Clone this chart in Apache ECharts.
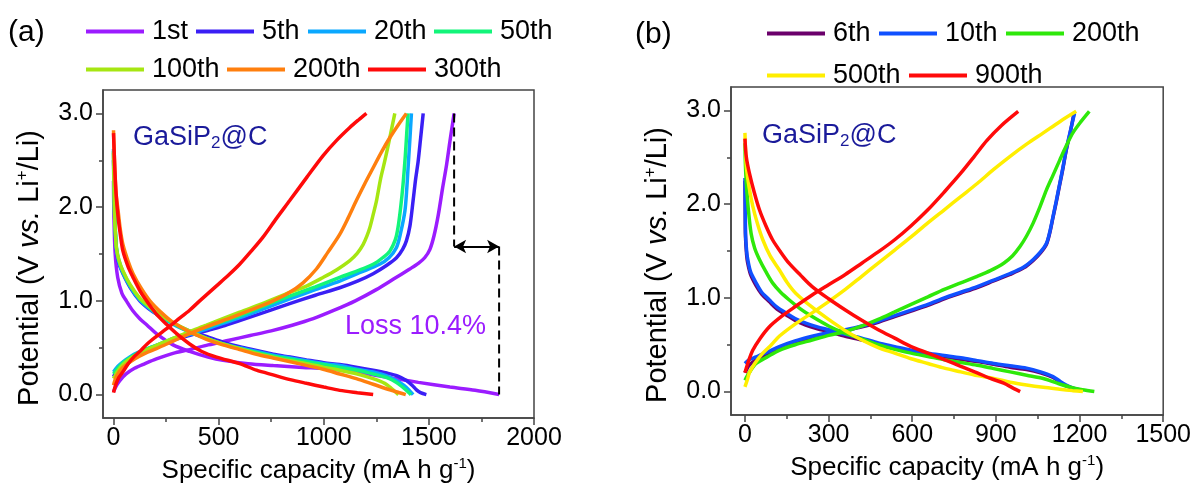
<!DOCTYPE html>
<html><head><meta charset="utf-8">
<script src="https://cdn.jsdelivr.net/npm/echarts@6/dist/echarts.min.js"></script>
<style>html,body{margin:0;padding:0;background:#fff}#c{width:1194px;height:497px}</style>
</head><body><div id="c"></div>
<script>
// ---------- DATA ----------
const cyclesA = ['1st','5th','20th','50th','100th','200th','300th'];
const cyclesB = ['6th','10th','200th','500th','900th'];

// panel (a): [capacity mA h g-1, potential V]
const a1stDis = [[0,2.28],[2,1.9],[8,1.5],[20,1.25],[40,1.08],[61,1.0],[90,0.9],[125,0.81],[160,0.74],[204,0.65],[283,0.53],[362,0.46],[450,0.4],[521,0.365],[640,0.33],[760,0.31],[900,0.29],[1000,0.28],[1150,0.24],[1300,0.185],[1450,0.13],[1600,0.08],[1720,0.045],[1834,0.0]];
const a1stCha = [[0,0.03],[15,0.1],[30,0.15],[60,0.22],[100,0.28],[150,0.33],[204,0.38],[283,0.44],[362,0.48],[450,0.53],[550,0.58],[650,0.63],[750,0.68],[850,0.74],[950,0.81],[1050,0.9],[1150,1.0],[1250,1.12],[1330,1.23],[1409,1.34],[1450,1.40],[1480,1.46],[1505,1.55],[1525,1.7],[1545,1.92],[1565,2.2],[1584,2.45],[1600,2.7],[1612,2.88],[1620,3.0]];
const a5thDis = [[0,2.5],[2,2.2],[5,1.9],[10,1.65],[14,1.53],[25,1.4],[45,1.29],[80,1.14],[125,1.0],[165,0.92],[204,0.86],[283,0.76],[360,0.68],[442,0.62],[520,0.56],[600,0.51],[680,0.47],[759,0.43],[840,0.4],[918,0.37],[1000,0.34],[1076,0.32],[1160,0.29],[1235,0.26],[1300,0.23],[1350,0.2],[1393,0.15],[1420,0.1],[1441,0.05],[1460,0.02],[1488,0.0]];
const a5thCha = [[0,0.19],[20,0.27],[45,0.33],[90,0.4],[140,0.45],[210,0.52],[283,0.58],[360,0.63],[442,0.68],[520,0.73],[600,0.79],[720,0.88],[838,0.97],[960,1.06],[1076,1.14],[1160,1.21],[1235,1.29],[1300,1.38],[1346,1.46],[1375,1.55],[1393,1.64],[1410,1.8],[1425,2.07],[1437,2.3],[1449,2.49],[1460,2.72],[1473,3.0]];
const a20thDis = [[0,2.62],[2,2.3],[5,1.95],[10,1.68],[14,1.55],[25,1.42],[45,1.3],[80,1.15],[125,1.01],[165,0.93],[204,0.86],[283,0.75],[360,0.67],[442,0.6],[520,0.54],[600,0.5],[680,0.46],[759,0.42],[840,0.39],[918,0.36],[1000,0.33],[1076,0.31],[1160,0.27],[1235,0.24],[1300,0.2],[1346,0.15],[1380,0.1],[1405,0.05],[1425,0.0]];
const a20thCha = [[0,0.24],[20,0.3],[45,0.35],[90,0.42],[140,0.47],[210,0.53],[283,0.59],[360,0.64],[442,0.7],[520,0.76],[600,0.82],[720,0.92],[838,1.02],[960,1.12],[1076,1.21],[1170,1.3],[1266,1.39],[1310,1.46],[1346,1.57],[1365,1.72],[1386,1.96],[1395,2.2],[1401,2.42],[1409,2.7],[1417,3.0]];
const a50thDis = [[0,2.6],[2,2.3],[5,1.95],[10,1.7],[14,1.57],[25,1.44],[45,1.31],[80,1.16],[125,1.02],[165,0.94],[204,0.87],[283,0.76],[360,0.67],[442,0.6],[520,0.54],[600,0.49],[680,0.45],[759,0.41],[840,0.38],[918,0.35],[1000,0.32],[1076,0.29],[1160,0.26],[1235,0.22],[1300,0.18],[1346,0.13],[1380,0.07],[1400,0.03],[1415,0.0]];
const a50thCha = [[0,0.22],[20,0.28],[45,0.34],[90,0.41],[140,0.47],[210,0.53],[283,0.6],[360,0.66],[442,0.72],[520,0.78],[600,0.84],[720,0.95],[838,1.05],[960,1.15],[1076,1.25],[1160,1.32],[1235,1.39],[1280,1.46],[1314,1.53],[1340,1.65],[1353,1.78],[1366,2.0],[1377,2.24],[1388,2.55],[1395,2.8],[1401,3.0]];
const a100thDis = [[0,2.58],[2,2.25],[5,1.92],[10,1.68],[14,1.56],[25,1.44],[45,1.32],[80,1.17],[125,1.03],[165,0.95],[204,0.88],[283,0.77],[360,0.68],[442,0.6],[520,0.54],[600,0.49],[680,0.44],[759,0.4],[840,0.36],[918,0.33],[1000,0.29],[1076,0.26],[1160,0.22],[1235,0.17],[1290,0.12],[1320,0.07],[1340,0.03],[1355,0.0]];
const a100thCha = [[0,0.17],[20,0.25],[45,0.32],[90,0.4],[140,0.46],[210,0.53],[283,0.6],[360,0.67],[442,0.74],[520,0.81],[600,0.88],[720,0.98],[838,1.09],[920,1.16],[997,1.25],[1060,1.33],[1124,1.43],[1160,1.51],[1187,1.6],[1205,1.69],[1219,1.78],[1235,1.92],[1251,2.07],[1270,2.3],[1290,2.49],[1315,2.75],[1338,3.0]];
const a200thDis = [[0,2.82],[3,2.6],[6,2.42],[12,2.15],[22,1.96],[33,1.75],[45,1.6],[70,1.42],[93,1.29],[130,1.14],[173,1.0],[225,0.88],[283,0.77],[360,0.67],[442,0.59],[520,0.53],[600,0.48],[680,0.43],[759,0.39],[880,0.33],[997,0.27],[1076,0.22],[1155,0.17],[1235,0.11],[1314,0.05],[1360,0.02],[1390,0.0]];
const a200thCha = [[0,0.1],[15,0.2],[45,0.29],[100,0.38],[150,0.44],[204,0.49],[283,0.57],[362,0.65],[450,0.73],[569,0.83],[660,0.91],[759,1.0],[830,1.08],[900,1.19],[965,1.34],[1020,1.52],[1076,1.71],[1115,1.88],[1155,2.07],[1195,2.25],[1235,2.42],[1275,2.59],[1314,2.74],[1355,2.88],[1393,3.0]];
const a300thDis = [[0,2.79],[3,2.6],[6,2.42],[12,2.15],[22,1.89],[33,1.7],[45,1.53],[70,1.36],[93,1.25],[125,1.11],[157,1.0],[200,0.87],[252,0.75],[300,0.65],[362,0.54],[420,0.46],[490,0.4],[600,0.33],[680,0.26],[759,0.21],[840,0.16],[918,0.12],[1000,0.08],[1076,0.045],[1160,0.02],[1235,0.0]];
const a300thCha = [[0,0.02],[10,0.1],[25,0.18],[44,0.24],[70,0.33],[100,0.41],[125,0.46],[160,0.54],[204,0.62],[251,0.7],[300,0.79],[362,0.9],[410,1.0],[490,1.16],[545,1.27],[600,1.39],[655,1.53],[711,1.68],[775,1.88],[838,2.07],[920,2.32],[997,2.55],[1060,2.71],[1124,2.85],[1165,2.93],[1203,3.0]];

// panel (b)
const b6thDis = [[0,2.25],[1,1.95],[2,1.65],[6,1.46],[10,1.37],[20,1.25],[40,1.13],[60,1.04],[87,0.96],[115,0.88],[147,0.82],[180,0.76],[218,0.71],[260,0.67],[300,0.64],[360,0.59],[419,0.55],[478,0.51],[537,0.47],[596,0.43],[656,0.4],[715,0.37],[774,0.345],[833,0.32],[892,0.29],[950,0.26],[1010,0.235],[1060,0.2],[1105,0.15],[1130,0.1],[1152,0.06],[1180,0.03],[1205,0.01]];
const b6thCha = [[0,0.2],[15,0.28],[40,0.34],[80,0.4],[123,0.46],[180,0.52],[241,0.57],[300,0.61],[360,0.65],[420,0.69],[478,0.74],[537,0.8],[596,0.86],[656,0.92],[715,0.99],[774,1.05],[833,1.11],[892,1.18],[951,1.25],[1000,1.32],[1034,1.4],[1060,1.48],[1081,1.57],[1093,1.69],[1105,1.86],[1117,2.03],[1129,2.21],[1141,2.39],[1152,2.57],[1167,2.77],[1180,2.97]];
const b10thDis = [[0,2.28],[1,2.0],[2,1.69],[6,1.5],[10,1.41],[20,1.28],[40,1.16],[60,1.06],[87,0.98],[115,0.9],[147,0.84],[180,0.78],[218,0.73],[260,0.69],[300,0.66],[360,0.61],[419,0.57],[478,0.52],[537,0.48],[596,0.44],[656,0.41],[715,0.385],[774,0.36],[833,0.33],[892,0.3],[950,0.275],[1010,0.25],[1060,0.21],[1105,0.16],[1130,0.11],[1152,0.07],[1175,0.04],[1200,0.02]];
const b10thCha = [[0,0.3],[15,0.34],[40,0.37],[80,0.42],[123,0.48],[180,0.54],[241,0.59],[300,0.63],[360,0.66],[420,0.7],[478,0.75],[537,0.81],[596,0.87],[656,0.93],[715,1.0],[774,1.06],[833,1.12],[892,1.19],[951,1.26],[1000,1.33],[1034,1.41],[1060,1.49],[1081,1.58],[1093,1.7],[1105,1.87],[1117,2.04],[1129,2.22],[1141,2.4],[1152,2.58],[1167,2.78],[1182,2.97]];
const b200thDis = [[0,2.65],[2,2.4],[5,2.22],[12,1.95],[22,1.69],[35,1.53],[52,1.41],[75,1.28],[99,1.16],[128,1.06],[158,0.98],[200,0.88],[241,0.8],[300,0.7],[360,0.62],[420,0.56],[478,0.5],[537,0.45],[596,0.41],[656,0.375],[715,0.34],[774,0.31],[833,0.28],[892,0.245],[951,0.21],[1010,0.175],[1070,0.14],[1120,0.09],[1164,0.05],[1210,0.02],[1253,0.0]];
const b200thCha = [[0,0.12],[15,0.2],[40,0.3],[80,0.37],[123,0.44],[180,0.5],[241,0.55],[300,0.6],[360,0.64],[420,0.7],[478,0.77],[537,0.85],[596,0.93],[656,1.01],[715,1.09],[774,1.16],[833,1.23],[880,1.29],[928,1.37],[960,1.45],[987,1.55],[1010,1.66],[1034,1.8],[1058,1.97],[1081,2.15],[1105,2.31],[1129,2.47],[1152,2.62],[1176,2.76],[1205,2.88],[1235,2.99]];
const b500thDis = [[0,2.76],[2,2.58],[5,2.4],[15,2.18],[28,1.98],[45,1.79],[64,1.62],[90,1.45],[123,1.3],[150,1.17],[182,1.05],[241,0.9],[300,0.77],[360,0.65],[419,0.55],[478,0.47],[537,0.41],[596,0.35],[656,0.3],[715,0.25],[774,0.21],[833,0.17],[892,0.14],[951,0.1],[1010,0.07],[1070,0.045],[1129,0.025],[1175,0.01],[1212,0.0]];
const b500thCha = [[0,0.05],[8,0.12],[16,0.2],[35,0.3],[64,0.41],[95,0.5],[123,0.59],[180,0.72],[241,0.84],[300,0.96],[360,1.09],[419,1.23],[478,1.37],[537,1.51],[596,1.65],[656,1.8],[715,1.94],[774,2.08],[833,2.22],[892,2.37],[951,2.51],[1010,2.64],[1070,2.76],[1129,2.88],[1188,2.99]];
const b900thDis = [[0,2.7],[5,2.5],[16,2.33],[33,2.13],[52,1.94],[75,1.77],[99,1.62],[128,1.49],[158,1.37],[200,1.24],[241,1.12],[300,0.99],[360,0.87],[419,0.76],[478,0.66],[537,0.57],[596,0.48],[656,0.41],[715,0.34],[774,0.27],[833,0.2],[880,0.14],[928,0.09],[960,0.04],[987,0.0]];
const b900thCha = [[0,0.2],[10,0.3],[28,0.44],[55,0.57],[87,0.69],[130,0.8],[182,0.91],[241,1.03],[300,1.14],[360,1.25],[419,1.37],[478,1.49],[537,1.62],[596,1.77],[656,1.94],[715,2.13],[774,2.33],[820,2.5],[868,2.68],[920,2.84],[980,2.99]];

const dataA = [[a1stDis,a1stCha],[a5thDis,a5thCha],[a20thDis,a20thCha],[a50thDis,a50thCha],[a100thDis,a100thCha],[a200thDis,a200thCha],[a300thDis,a300thCha]];
const dataB = [[b6thDis,b6thCha],[b10thDis,b10thCha],[b200thDis,b200thCha],[b500thDis,b500thCha],[b900thDis,b900thCha]];

// axes / ticks
const xRangeA = [-50, 2000], xRangeB = [-50, 1500], yRange = [-0.25, 3.25];
const xTicksA = [0,500,1000,1500,2000], xMinorA = [250,750,1250,1750];
const xTicksB = [0,300,600,900,1200,1500], xMinorB = [150,450,750,1050,1350];
const yTicks = [0,1,2,3], yMinor = [0.5,1.5,2.5];
const lossArrowV = 1.58;
const lossText = 'Loss 10.4%';

// ---------- STYLE ----------
const colorsA = ['#9b1cff','#3a1ff5','#0aa8ff','#12f57a','#a6e612','#ff7f0e','#ff0a0a'];
const colorsB = ['#6b006b','#1050ff','#2ee80a','#ffee00','#ff0a0a'];
const FONT = "'Liberation Sans', Arial, sans-serif";
const AX = '#444';

const chart = echarts.init(document.getElementById('c'), null, {renderer:'canvas'});

const series = [];
dataA.forEach((pair, i) => {
  pair.forEach(d => series.push({type:'line', name:cyclesA[i], xAxisIndex:0, yAxisIndex:0, data:d,
    smooth:0.3, showSymbol:false, symbol:'none', color:colorsA[i], lineStyle:{width:3.5, color:colorsA[i]}, silent:true, z:2}));
});
dataB.forEach((pair, i) => {
  pair.forEach(d => series.push({type:'line', name:'b:'+cyclesB[i], xAxisIndex:2, yAxisIndex:2, data:d,
    smooth:0.3, showSymbol:false, symbol:'none', color:colorsB[i], lineStyle:{width:3.5, color:colorsB[i]}, silent:true, z:2}));
});
// loss markers derived from 1st cycle ends
const chEnd = a1stCha[a1stCha.length-1], disEnd = a1stDis[a1stDis.length-1];
const dashStyle = {type:[9,5], width:2, color:'#000'};
series.push({type:'line', xAxisIndex:0, yAxisIndex:0, data:[[chEnd[0], chEnd[1]],[chEnd[0], lossArrowV]], showSymbol:false, symbol:'none', lineStyle:dashStyle, silent:true, z:3,
  markLine:{silent:true, symbol:['arrow','arrow'], symbolSize:[10,12], label:{show:false}, lineStyle:{type:'solid', width:2, color:'#000'},
    data:[[{coord:[chEnd[0], lossArrowV]},{coord:[disEnd[0], lossArrowV]}]]}});
series.push({type:'line', xAxisIndex:0, yAxisIndex:0, data:[[disEnd[0], lossArrowV],[disEnd[0], disEnd[1]]], showSymbol:false, symbol:'none', lineStyle:dashStyle, silent:true, z:3});

const labelStyle = {color:'#000', fontSize:25, fontFamily:FONT};
function xAxes(range, ticks, minor, gridIndex){
  return [{
    type:'value', gridIndex, min:range[0], max:range[1], position:'bottom',
    axisLine:{show:true, onZero:false, lineStyle:{color:AX, width:1.5}},
    axisTick:{show:true, inside:false, length:7, customValues:ticks, lineStyle:{color:AX, width:1.5}},
    axisLabel:{show:true, customValues:ticks, margin:8, formatter:v => String(v), ...labelStyle},
    splitLine:{show:false},
    name:'{n|Specific capacity (mA h g}{s|-1}{n|)}', nameLocation:'middle', nameGap:38,
    nameTextStyle:{rich:{n:{fontSize:26, fontFamily:FONT, color:'#000'}, s:{fontSize:15, fontFamily:FONT, color:'#000', padding:[0,0,14,0]}}}
  },{
    type:'value', gridIndex, min:range[0], max:range[1], position:'bottom',
    axisLine:{show:false, onZero:false}, axisLabel:{show:false}, splitLine:{show:false},
    axisTick:{show:true, inside:false, length:4, customValues:minor, lineStyle:{color:AX, width:1.5}}
  }];
}
function yAxes(gridIndex){
  return [{
    type:'value', gridIndex, min:yRange[0], max:yRange[1], position:'left',
    axisLine:{show:true, onZero:false, lineStyle:{color:AX, width:1.5}},
    axisTick:{show:true, length:7, customValues:yTicks, lineStyle:{color:AX, width:1.5}},
    axisLabel:{show:true, customValues:yTicks, margin:10, formatter:v => v.toFixed(1), ...labelStyle},
    splitLine:{show:false},
    name:'{n|Potential (V }{i|vs.}{n| Li}{s|+}{n|/Li)}', nameLocation:'middle', nameGap:58,
    nameTextStyle:{padding:[0,28,0,0], rich:{n:{fontSize:29, fontFamily:FONT, color:'#000'}, i:{fontSize:29, fontStyle:'italic', fontFamily:FONT, color:'#000'}, s:{fontSize:17, fontFamily:FONT, color:'#000', padding:[0,0,14,0]}}}
  },{
    type:'value', gridIndex, min:yRange[0], max:yRange[1], position:'left',
    axisLine:{show:false, onZero:false}, axisLabel:{show:false}, splitLine:{show:false},
    axisTick:{show:true, inside:false, length:4, customValues:yMinor, lineStyle:{color:AX, width:1.5}}
  }];
}

// legends: one component per item
const legendPosA = [[86,34],[196,34],[308,34],[434,34],[86,72],[227,72],[368,72]];
const legendPosB = [[767,36],[879,36],[1006,36],[767,78],[909,78]];
const legends = [];
const legText = {color:'#000', fontSize:27, fontFamily:FONT, padding:[0,0,0,3]};
cyclesA.forEach((n,i) => legends.push({data:[n], left:legendPosA[i][0], top:legendPosA[i][1]-16, padding:0, itemGap:0,
  icon:'rect', itemWidth:58, itemHeight:4, selectedMode:false, textStyle:legText}));
cyclesB.forEach((n,i) => legends.push({data:['b:'+n], left:legendPosB[i][0], top:legendPosB[i][1]-16, padding:0, itemGap:0,
  icon:'rect', itemWidth:58, itemHeight:4, selectedMode:false, formatter:s => s.slice(2), textStyle:legText}));

const gasip = (x,y) => ({type:'text', left:x, top:y, silent:true, style:{text:'{m|GaSiP}{s|2}{m|@C}',
  rich:{m:{fontSize:27, fontFamily:FONT, fill:'#1a1a9a'}, s:{fontSize:17, fontFamily:FONT, fill:'#1a1a9a', padding:[12,0,0,0]}}}});

const option = {
  animation:false,
  backgroundColor:'#fff',
  grid:[
    {left:103, top:90, width:431, height:328, show:true, borderColor:AX, borderWidth:1.5, backgroundColor:'transparent'},
    {left:731, top:87, width:437, height:328, show:true, borderColor:AX, borderWidth:1.5, backgroundColor:'transparent'}
  ],
  xAxis:[...xAxes(xRangeA, xTicksA, xMinorA, 0), ...xAxes(xRangeB, xTicksB, xMinorB, 1)],
  yAxis:[...yAxes(0), ...yAxes(1)],
  legend:legends,
  series,
  graphic:[
    {type:'text', left:8, top:18, silent:true, style:{text:'(a)', fontSize:30, fontFamily:FONT, fill:'#000'}},
    {type:'text', left:635, top:20, silent:true, style:{text:'(b)', fontSize:30, fontFamily:FONT, fill:'#000'}},
    gasip(133, 124),
    gasip(762, 122),
    {type:'text', left:345, top:313, silent:true, style:{text:lossText, fontSize:27, fontFamily:FONT, fill:'#9b1cff'}}
  ]
};
chart.setOption(option);
</script></body></html>
